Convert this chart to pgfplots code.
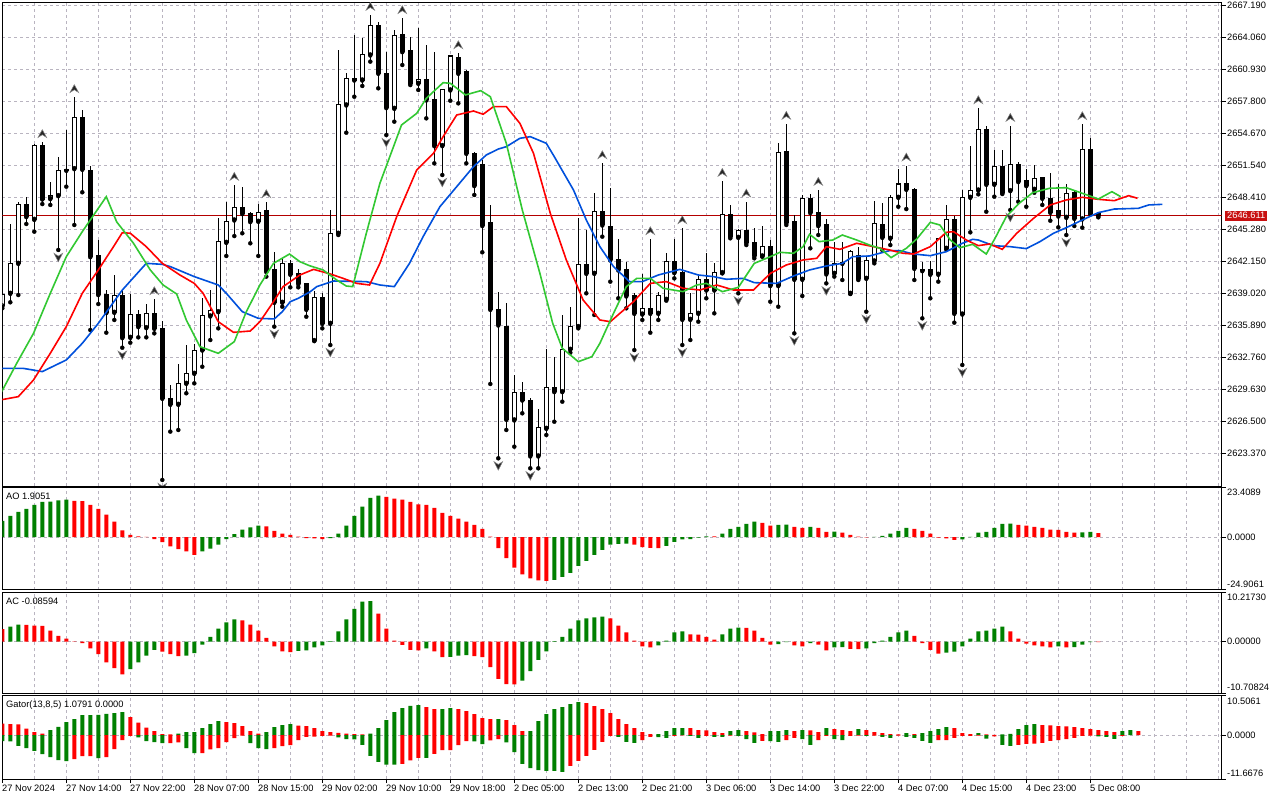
\documentclass[border=0pt]{standalone}
\usepackage{fontspec}
\setmainfont{Liberation Sans}
\usepackage{pgfplots}
\usepackage{pgfplotstable}
\pgfplotsset{compat=1.18}
\definecolor{jaw}{RGB}{0,80,220}
\definecolor{teeth}{RGB}{255,0,0}
\definecolor{lips}{RGB}{50,200,50}
\definecolor{barg}{RGB}{0,128,0}
\definecolor{barr}{RGB}{255,0,0}
\definecolor{gridc}{RGB}{185,180,192}
\definecolor{pline}{RGB}{180,0,0}
\definecolor{pbox}{RGB}{200,16,16}

\pgfdeclareplotmark{fup}{%
  \pgfpathmoveto{\pgfqpoint{0pt}{12.6pt}}%
  \pgfpathlineto{\pgfqpoint{-4.3pt}{4.8pt}}%
  \pgfpathlineto{\pgfqpoint{0pt}{7.6pt}}%
  \pgfpathlineto{\pgfqpoint{4.3pt}{4.8pt}}%
  \pgfpathclose\pgfusepathqfillstroke}
\pgfdeclareplotmark{fdn}{%
  \pgfpathmoveto{\pgfqpoint{0pt}{-11.8pt}}%
  \pgfpathlineto{\pgfqpoint{-4.3pt}{-3.4pt}}%
  \pgfpathlineto{\pgfqpoint{0pt}{-6.2pt}}%
  \pgfpathlineto{\pgfqpoint{4.3pt}{-3.4pt}}%
  \pgfpathclose\pgfusepathqfillstroke}

\pgfplotstableread{
i o h l c
0 2637.78 2639.67 2637.55 2638.95
1 2639.02 2645.80 2638.14 2641.95
2 2641.95 2647.98 2638.85 2647.66
3 2647.75 2648.41 2645.80 2646.52
4 2646.25 2653.62 2645.05 2653.43
5 2653.43 2653.79 2647.75 2648.24
6 2648.28 2649.91 2647.66 2648.54
7 2648.57 2652.38 2643.26 2651.02
8 2651.05 2654.99 2649.45 2651.11
9 2651.21 2658.19 2645.70 2656.23
10 2656.23 2656.95 2648.90 2651.15
11 2651.05 2651.47 2635.43 2642.60
12 2642.67 2644.23 2637.97 2638.89
13 2638.92 2639.34 2635.17 2637.13
14 2637.16 2640.78 2636.41 2638.79
15 2638.85 2639.34 2633.70 2634.68
16 2634.71 2638.92 2634.19 2636.96
17 2636.96 2637.39 2634.71 2635.76
18 2635.66 2637.97 2634.71 2637.06
19 2637.06 2638.43 2635.10 2635.59
20 2635.59 2636.31 2620.76 2628.75
21 2628.75 2630.05 2625.49 2628.16
22 2628.16 2632.10 2625.65 2630.21
23 2630.21 2633.96 2629.24 2631.19
24 2631.19 2634.06 2630.21 2633.47
25 2633.47 2638.53 2631.84 2636.80
26 2636.80 2639.34 2634.45 2637.32
27 2637.22 2646.35 2635.59 2644.07
28 2644.00 2647.98 2642.67 2646.09
29 2646.19 2649.61 2644.62 2647.43
30 2647.43 2649.39 2644.89 2646.81
31 2646.84 2646.97 2643.91 2646.03
32 2646.06 2647.75 2642.67 2646.94
33 2647.07 2647.92 2640.65 2641.14
34 2641.30 2643.03 2635.76 2638.14
35 2638.14 2642.44 2637.71 2641.95
36 2641.95 2642.28 2639.60 2640.88
37 2640.91 2641.36 2639.60 2639.93
38 2639.93 2640.06 2636.73 2637.45
39 2634.39 2639.28 2634.39 2638.63
40 2638.63 2639.02 2635.59 2636.08
41 2636.08 2647.17 2633.96 2644.89
42 2644.89 2662.82 2644.72 2657.44
43 2657.44 2660.60 2654.73 2660.05
44 2660.05 2664.29 2658.25 2659.88
45 2659.88 2664.02 2659.30 2662.33
46 2662.33 2666.24 2661.68 2665.26
47 2665.26 2665.52 2659.07 2660.54
48 2660.54 2662.65 2654.50 2657.18
49 2657.11 2664.77 2655.81 2664.19
50 2664.29 2665.92 2661.35 2662.65
51 2662.72 2664.12 2659.39 2659.56
52 2659.56 2664.94 2658.91 2659.95
53 2659.95 2663.31 2656.13 2657.93
54 2657.93 2662.65 2651.73 2653.46
55 2653.46 2658.97 2650.59 2658.91
56 2658.91 2662.33 2657.86 2662.23
57 2662.10 2662.49 2657.60 2660.54
58 2660.70 2660.86 2651.73 2652.71
59 2652.65 2652.87 2648.64 2649.55
60 2651.57 2652.06 2643.03 2645.64
61 2645.96 2647.66 2630.15 2637.45
62 2637.45 2639.18 2622.88 2635.92
63 2635.82 2638.10 2625.65 2626.69
64 2626.63 2631.03 2624.02 2629.30
65 2629.30 2630.38 2627.28 2628.58
66 2628.58 2628.75 2621.90 2623.11
67 2623.11 2627.67 2621.90 2625.91
68 2625.81 2633.54 2625.16 2629.82
69 2629.82 2632.82 2626.46 2629.40
70 2629.40 2636.90 2628.42 2633.54
71 2633.54 2637.65 2633.21 2635.82
72 2635.76 2646.35 2635.59 2641.79
73 2641.79 2645.21 2639.02 2640.97
74 2640.97 2648.86 2636.90 2647.00
75 2647.00 2651.73 2644.56 2645.70
76 2645.60 2649.29 2640.16 2642.28
77 2642.28 2644.30 2638.53 2641.30
78 2641.30 2642.11 2637.55 2638.76
79 2638.79 2639.08 2633.47 2637.06
80 2636.99 2640.91 2636.41 2637.55
81 2637.55 2644.30 2635.17 2637.06
82 2637.06 2639.18 2636.41 2638.85
83 2638.43 2642.93 2638.30 2642.11
84 2642.11 2644.30 2640.48 2641.04
85 2641.04 2645.37 2633.96 2636.47
86 2636.47 2639.02 2634.45 2637.06
87 2637.06 2640.71 2636.24 2640.39
88 2640.39 2642.93 2638.53 2639.34
89 2639.34 2641.95 2637.06 2641.04
90 2641.04 2650.00 2640.97 2646.74
91 2646.74 2647.66 2644.40 2644.56
92 2644.49 2645.28 2639.02 2645.15
93 2645.15 2647.98 2643.74 2643.97
94 2644.00 2645.37 2642.44 2642.67
95 2642.67 2645.60 2642.60 2643.58
96 2643.58 2644.23 2638.20 2639.77
97 2639.77 2653.69 2637.71 2652.77
98 2652.87 2655.58 2645.70 2645.93
99 2646.03 2646.68 2635.10 2640.39
100 2640.39 2648.64 2638.76 2648.31
101 2648.31 2648.73 2643.42 2646.91
102 2646.94 2649.12 2644.72 2645.64
103 2645.70 2646.25 2639.99 2640.91
104 2640.97 2644.07 2640.65 2641.95
105 2641.95 2644.07 2640.32 2642.02
106 2639.02 2643.26 2638.95 2643.09
107 2642.70 2643.52 2640.32 2640.48
108 2640.48 2642.60 2637.22 2642.18
109 2642.18 2648.08 2641.95 2645.86
110 2645.77 2647.88 2643.26 2644.49
111 2644.40 2648.64 2643.74 2648.41
112 2648.41 2651.18 2647.49 2649.71
113 2649.71 2651.50 2647.26 2649.19
114 2649.22 2649.29 2640.32 2641.46
115 2641.36 2642.11 2636.57 2641.23
116 2641.30 2642.21 2638.53 2640.88
117 2640.88 2644.46 2640.16 2644.40
118 2643.42 2647.66 2643.32 2646.19
119 2646.19 2646.58 2636.15 2637.06
120 2636.99 2649.12 2632.01 2648.41
121 2648.41 2653.46 2644.98 2649.12
122 2649.12 2657.11 2648.70 2655.06
123 2655.06 2655.42 2647.00 2649.68
124 2649.68 2653.04 2648.47 2651.47
125 2651.47 2653.04 2648.73 2648.86
126 2649.06 2655.38 2647.17 2651.63
127 2651.63 2651.83 2647.98 2649.94
128 2650.10 2651.18 2647.49 2649.55
129 2649.19 2651.57 2648.86 2650.27
130 2650.36 2650.43 2647.66 2648.31
131 2648.31 2650.75 2646.12 2646.94
132 2647.10 2649.71 2645.47 2646.58
133 2646.45 2649.71 2644.72 2648.80
134 2648.86 2649.03 2645.60 2646.35
135 2646.29 2655.55 2645.44 2653.10
136 2653.10 2654.18 2646.78 2646.84
137 2646.81 2647.00 2646.45 2646.611
}\candles

\pgfplotstableread{
i v g
0 7.7 1
1 10.1 1
2 12.0 1
3 13.4 1
4 15.3 1
5 16.7 1
6 16.8 1
7 17.4 1
8 17.7 1
9 17.2 0
10 17.1 0
11 15.3 0
12 13.4 0
13 10.6 0
14 7.3 0
15 3.2 0
16 1.1 0
17 0.3 0
18 0.1 0
19 -0.9 0
20 -2.4 0
21 -4.4 0
22 -5.7 0
23 -6.8 0
24 -8.4 0
25 -6.8 1
26 -5.4 1
27 -3.6 1
28 -0.9 1
29 1.4 1
30 3.6 1
31 4.6 1
32 5.4 1
33 5.1 0
34 3.0 0
35 1.6 0
36 1.1 0
37 0.2 0
38 -0.5 0
39 -0.6 0
40 -0.9 0
41 -0.5 1
42 1.6 1
43 5.4 1
44 10.1 1
45 14.4 1
46 18.6 1
47 19.6 1
48 19.1 0
49 18.2 0
50 17.7 0
51 16.7 0
52 15.5 0
53 15.3 0
54 13.9 0
55 11.5 0
56 10.1 0
57 8.7 0
58 7.3 0
59 5.8 0
60 3.9 0
61 0.2 0
62 -5.2 0
63 -9.9 0
64 -14.4 0
65 -17.7 0
66 -19.6 0
67 -20.5 0
68 -20.7 0
69 -20.2 1
70 -18.8 1
71 -16.9 1
72 -13.6 1
73 -11.2 1
74 -8.4 1
75 -6.0 1
76 -3.6 1
77 -3.2 1
78 -3.1 1
79 -3.6 0
80 -4.7 0
81 -5.1 0
82 -5.2 0
83 -4.1 1
84 -2.2 1
85 -1.1 1
86 -1.0 1
87 -0.3 1
88 0.4 1
89 0.3 0
90 1.6 1
91 3.9 1
92 4.9 1
93 6.3 1
94 7.3 1
95 6.8 0
96 5.4 0
97 5.8 1
98 5.9 1
99 4.9 0
100 4.4 0
101 4.9 1
102 4.4 0
103 2.5 0
104 2.6 1
105 2.1 0
106 1.1 0
107 0.2 0
108 -0.1 0
109 0.1 1
110 0.6 1
111 1.6 1
112 3.0 1
113 4.4 1
114 3.9 0
115 3.0 0
116 1.6 0
117 -0.3 0
118 -0.6 0
119 -1.3 0
120 -1.1 1
121 0.1 1
122 2.1 1
123 2.5 1
124 4.4 1
125 6.3 1
126 6.4 1
127 5.8 0
128 5.4 0
129 4.9 0
130 4.4 0
131 3.5 0
132 3.4 0
133 2.5 0
134 2.1 0
135 2.2 1
136 2.5 1
137 1.9051 0
}\aodata

\pgfplotstableread{
i v g
0 2.6 0
1 3.1 1
2 3.5 1
3 3.45 0
4 3.3 0
5 3.25 0
6 2.3 0
7 1.2 0
8 0.6 0
9 -0.05 0
10 -0.3 0
11 -1.4 0
12 -2.6 0
13 -4.3 0
14 -5.5 0
15 -6.8 0
16 -5.7 1
17 -4.3 1
18 -2.9 1
19 -1.7 1
20 -2.1 0
21 -2.6 0
22 -3.0 0
23 -2.9 1
24 -2.4 1
25 -0.6 1
26 1.0 1
27 2.7 1
28 4.0 1
29 4.6 1
30 4.4 0
31 3.5 0
32 2.3 0
33 0.8 0
34 -1.0 0
35 -2.0 0
36 -2.2 0
37 -1.9 1
38 -1.8 1
39 -1.2 1
40 -0.8 1
41 0.1 1
42 2.1 1
43 4.6 1
44 6.8 1
45 8.3 1
46 8.4 1
47 5.8 0
48 2.7 0
49 0.2 0
50 -0.7 0
51 -1.7 0
52 -1.8 0
53 -1.4 1
54 -2.0 0
55 -3.2 0
56 -3.15 1
57 -2.9 1
58 -2.8 1
59 -3.0 0
60 -3.2 0
61 -5.3 0
62 -7.7 0
63 -8.8 0
64 -8.85 0
65 -8.1 1
66 -6.1 1
67 -3.8 1
68 -2.0 1
69 0.1 1
70 1.0 1
71 2.7 1
72 4.4 1
73 4.8 1
74 5.0 1
75 5.2 1
76 4.8 0
77 3.3 0
78 1.9 0
79 0.2 0
80 -1.0 0
81 -1.2 0
82 -0.8 1
83 0.2 1
84 1.9 1
85 2.1 1
86 1.5 0
87 1.45 0
88 1.0 0
89 0.4 0
90 1.5 1
91 2.7 1
92 2.9 1
93 2.85 0
94 2.3 0
95 0.8 0
96 -0.6 0
97 -0.5 1
98 -0.1 1
99 -0.8 0
100 -1.0 0
101 -0.3 1
102 -0.6 0
103 -1.8 0
104 -1.2 1
105 -1.15 1
106 -1.5 0
107 -1.55 0
108 -1.4 1
109 -0.3 1
110 0.2 1
111 1.0 1
112 1.9 1
113 2.3 1
114 1.2 0
115 -0.3 0
116 -1.7 0
117 -2.5 0
118 -2.3 1
119 -2.1 1
120 -1.0 1
121 0.6 1
122 2.1 1
123 2.3 1
124 2.7 1
125 3.1 1
126 2.1 0
127 0.6 0
128 -0.4 0
129 -0.8 0
130 -1.0 0
131 -1.2 0
132 -1.0 1
133 -1.2 0
134 -1.15 1
135 -0.6 1
136 -0.1 1
137 -0.08594 0
}\acdata

\pgfplotstableread{
i v g
0 3.10 0
1 2.93 0
2 2.90 0
3 1.77 0
4 0.80 0
5 0.44 0
6 1.33 1
7 2.22 1
8 3.46 1
9 4.26 1
10 5.32 1
11 5.35 1
12 5.38 1
13 5.68 1
14 5.85 1
15 6.12 1
16 4.79 0
17 3.37 0
18 2.04 0
19 1.06 0
20 0.27 0
21 0.20 0
22 0.44 1
23 0.80 1
24 0.82 1
25 1.86 1
26 2.93 1
27 3.73 1
28 3.46 0
29 3.19 0
30 2.39 0
31 1.06 0
32 0.44 0
33 0.80 1
34 2.13 1
35 2.66 1
36 2.93 1
37 2.57 0
38 2.39 0
39 1.86 0
40 1.06 0
41 0.80 0
42 0.62 0
43 0.44 0
44 0.27 0
45 0.18 0
46 0.44 1
47 1.86 1
48 3.99 1
49 6.12 1
50 7.18 1
51 7.81 1
52 7.98 1
53 7.45 0
54 6.92 0
55 6.95 1
56 7.18 1
57 6.92 0
58 6.39 0
59 5.59 0
60 4.52 0
61 4.26 0
62 4.28 1
63 3.99 0
64 2.66 0
65 1.06 0
66 1.10 1
67 3.73 1
68 5.59 1
69 6.92 1
70 7.45 1
71 8.25 1
72 8.78 1
73 8.52 0
74 7.72 0
75 6.92 0
76 5.85 0
77 4.26 0
78 2.93 0
79 1.86 0
80 0.80 0
81 0.27 0
82 0.30 1
83 1.06 1
84 1.86 1
85 1.90 1
86 1.86 0
87 1.33 0
88 1.30 0
89 0.80 0
90 0.53 0
91 1.06 1
92 1.33 1
93 1.06 0
94 0.71 0
95 0.27 0
96 1.06 1
97 1.10 1
98 1.33 1
99 1.06 0
100 1.33 1
101 1.30 0
102 0.80 0
103 1.86 1
104 1.60 0
105 1.33 0
106 1.06 0
107 1.60 1
108 1.33 0
109 0.80 0
110 0.53 0
111 0.27 0
112 0.20 0
113 0.53 1
114 0.27 0
115 0.53 1
116 1.06 1
117 1.60 1
118 2.13 1
119 1.86 0
120 0.53 0
121 0.27 0
122 0.53 1
123 0.18 0
124 0.10 0
125 0.18 1
126 0.35 1
127 1.60 1
128 2.66 1
129 2.93 1
130 2.66 0
131 2.60 0
132 2.39 0
133 2.35 0
134 2.13 0
135 1.86 0
136 1.60 0
137 1.33 0
138 1.06 0
139 0.80 0
140 1.06 1
141 1.33 1
142 1.0791 0
}\gup

\pgfplotstableread{
i v g
0 -1.60 1
1 -1.65 1
2 -2.84 1
3 -3.46 1
4 -4.17 1
5 -5.06 1
6 -5.85 1
7 -6.65 1
8 -6.92 1
9 -6.39 0
10 -5.59 0
11 -5.55 0
12 -6.12 1
13 -5.85 0
14 -3.73 0
15 -1.33 0
16 -0.18 0
17 -0.62 1
18 -1.60 1
19 -1.86 1
20 -2.13 1
21 -2.10 0
22 -1.95 0
23 -3.46 1
24 -4.79 1
25 -4.75 0
26 -3.81 0
27 -3.46 0
28 -1.86 0
29 -0.80 0
30 -0.09 0
31 -2.13 1
32 -3.46 1
33 -3.73 1
34 -3.46 0
35 -2.93 0
36 -2.66 0
37 -1.33 0
38 -0.44 0
39 -0.40 0
40 -0.18 0
41 -0.09 0
42 -0.62 1
43 -1.06 1
44 -1.10 1
45 -2.57 1
46 -5.50 1
47 -7.10 1
48 -7.81 1
49 -7.85 1
50 -7.63 0
51 -6.74 0
52 -6.03 0
53 -6.05 1
54 -4.97 0
55 -3.99 0
56 -3.95 0
57 -2.66 0
58 -1.60 0
59 -1.65 1
60 -2.39 1
61 -1.42 0
62 -1.06 0
63 -1.95 1
64 -4.52 1
65 -7.63 1
66 -8.78 1
67 -9.31 1
68 -9.49 1
69 -9.50 1
70 -9.76 1
71 -8.16 0
72 -6.83 0
73 -5.50 0
74 -3.90 0
75 -1.77 0
76 -0.18 0
77 -0.44 1
78 -1.77 1
79 -2.04 1
80 -1.33 0
81 -0.44 0
82 -0.50 1
83 -0.71 1
84 -0.18 0
85 -0.05 0
86 -0.18 1
87 -0.71 1
88 -0.18 0
89 -0.44 1
90 -0.45 1
91 -0.09 0
92 -0.18 1
93 -1.06 1
94 -2.04 1
95 -1.51 0
96 -1.60 1
97 -1.77 1
98 -1.33 0
99 -0.71 0
100 -1.06 1
101 -2.57 1
102 -1.33 0
103 -0.18 0
104 -1.06 1
105 -1.33 1
106 -0.18 0
107 -0.09 0
108 -0.18 1
109 -0.09 0
110 -0.44 1
111 -0.71 1
112 -0.09 0
113 -0.44 1
114 -0.71 1
115 -1.51 1
116 -2.04 1
117 -1.33 0
118 -1.30 0
119 -0.71 0
120 -0.18 0
121 -0.17 0
122 -0.09 0
123 -0.89 1
124 -0.35 0
125 -2.57 1
126 -2.84 1
127 -2.57 0
128 -2.31 0
129 -2.28 0
130 -2.04 0
131 -1.51 0
132 -1.33 0
133 -1.06 0
134 -0.71 0
135 -0.18 0
136 -0.09 0
137 -0.35 1
138 -0.44 1
139 -0.98 1
140 -0.18 0
}\glo

\pgfplotsset{
  mt/.style={
    scale only axis, width=1219.4pt, xmin=0, xmax=152.425,
    anchor=south west,
    axis line style={black, line width=0.9pt},
    clip mode=individual,
    tick align=outside,
    ytick pos=right, yticklabel pos=right,
    major tick length=4pt,
    xtick style={draw opacity=0},
    ytick style={black, line width=0.8pt},
    grid style={gridc, dash pattern=on 3pt off 3pt, line width=0.8pt},
    xmajorgrids, ymajorgrids,
    tick label style={font=\fontsize{9.3}{11}\selectfont, inner sep=0pt},
    yticklabel style={anchor=west, xshift=1.3pt},
    xtick={4,8,...,152}, xticklabels={},
  },
  bars/.style={ybar, bar width=4pt, bar shift=0pt, draw=none, forget plot},
}

\begin{document}
\begin{tikzpicture}[font=\fontsize{9.3}{11}\selectfont]
\path[use as bounding box, fill=white] (0pt,0pt) rectangle (1280pt,800pt);

% ---------- main price panel ----------
\begin{axis}[mt, at={(2.3pt,314pt)}, height=483.5pt,
  ymin=2620.171, ymax=2667.464, clip marker paths=true,
  ytick={2623.37,2626.50,2629.63,2632.76,2635.89,2639.02,2642.15,2645.28,2648.41,2651.54,2654.67,2657.80,2660.93,2664.06,2667.19},
  yticklabels={2623.370,2626.500,2629.630,2632.760,2635.890,2639.020,2642.150,2645.280,2648.410,2651.540,2654.670,2657.800,2660.930,2664.060,2667.190}]
\addplot[pline, line width=0.8pt, forget plot] coordinates {(0,2646.611) (152.425,2646.611)};
% wicks
\addplot[only marks, mark=none, forget plot,
  error bars/.cd, y dir=plus, y explicit, error mark=none,
  error bar style={draw=black, line width=1pt}]
  table[x=i, y=l, y error plus expr={\thisrow{h}-\thisrow{l}}] {\candles};
% body outline / black body
\addplot[only marks, mark=none, forget plot,
  error bars/.cd, y dir=plus, y explicit, error mark=none,
  error bar style={draw=black, line width=5pt}]
  table[x=i, y expr={min(\thisrow{o},\thisrow{c})-0.049},
        y error plus expr={abs(\thisrow{c}-\thisrow{o})+0.098}] {\candles};
% white bodies
\addplot[only marks, mark=none, forget plot,
  error bars/.cd, y dir=plus, y explicit, error mark=none,
  error bar style={draw=white, line width=3pt}]
  table[x=i, y expr={((\thisrow{c}-\thisrow{o})>0.1) ? (\thisrow{o}+0.049) : nan},
        y error plus expr={\thisrow{c}-\thisrow{o}-0.098}] {\candles};
% Alligator jaw
\addplot[jaw, line width=1.6pt] coordinates {
(-0.3,2631.68)(2.6,2631.68)(5,2631.36)(8,2632.50)(10,2634.13)(12,2636.08)(13.5,2637.71)(15,2639.34)(18,2641.95)(20,2641.85)(21,2641.63)(24,2640.65)(27,2639.83)(28,2639.02)(30,2637.22)(32,2636.57)(34,2636.51)(35,2637.22)(36,2638.20)(37,2638.53)(38.5,2639.18)(39.3,2639.67)(41.4,2640.22)(45.5,2640.16)(47.2,2639.83)(49,2639.67)(50.9,2641.95)(52.6,2644.56)(54.7,2647.49)(56.8,2649.45)(58.9,2651.41)(60.5,2652.55)(62,2653.13)(63,2653.36)(64.7,2654.18)(66,2654.34)(68,2653.69)(69,2652.38)(71.4,2649.12)(73,2646.19)(74.7,2643.58)(76.4,2641.63)(78.4,2640.16)(80,2640.16)(82,2640.81)(84.7,2641.36)(87,2640.81)(88.9,2640.65)(90.5,2640.39)(92.6,2640.48)(94,2640.06)(96.8,2639.99)(98.9,2640.71)(100.9,2641.30)(103,2641.69)(105,2641.95)(106.3,2642.60)(108.4,2642.67)(110.9,2643.19)(112.2,2643.19)(113.9,2642.86)(116,2642.70)(118,2643.09)(120,2643.91)(121.3,2644.30)(122,2644.23)(123.9,2643.68)(126,2643.58)(128,2643.39)(129.7,2644.07)(131.4,2644.89)(133,2645.44)(135,2646.19)(137,2646.91)(139,2647.26)(142,2647.33)(143.3,2647.66)(145,2647.72)};
% Alligator teeth
\addplot[teeth, line width=1.6pt] coordinates {
(-0.3,2628.58)(2,2628.91)(3.9,2630.54)(6,2633.15)(8,2635.76)(10,2639.02)(12,2641.30)(13.9,2643.58)(15,2644.95)(16,2644.89)(18,2643.58)(20,2641.95)(22.2,2640.81)(24,2639.99)(25.1,2639.02)(27,2636.24)(28.9,2635.20)(31,2635.33)(32.2,2636.24)(33.9,2638.20)(35.1,2639.67)(37.2,2640.81)(38.9,2641.36)(41,2640.91)(42.6,2640.48)(44.3,2639.99)(45.9,2639.83)(47.2,2641.95)(49.3,2646.52)(51.8,2651.08)(53.9,2652.71)(55.1,2654.34)(56.8,2656.46)(58.9,2656.85)(60.1,2656.53)(61.4,2657.28)(63,2657.28)(64.7,2655.64)(66.4,2652.71)(68.5,2646.84)(70.5,2642.28)(72.6,2638.36)(74.7,2636.41)(76,2636.24)(77.2,2637.06)(78.9,2638.20)(81,2639.99)(83,2640.16)(85.1,2639.51)(87.2,2639.34)(89.3,2639.83)(91.4,2639.34)(93.9,2639.34)(96,2640.97)(98,2641.79)(100.1,2642.28)(101.8,2642.44)(103,2643.58)(104.7,2643.32)(106.8,2643.91)(108.9,2643.58)(110.9,2643.26)(112.6,2642.93)(113.9,2642.86)(116,2643.58)(118,2644.98)(118.9,2645.05)(120.5,2644.23)(122,2643.68)(123.4,2643.84)(125,2643.32)(126.8,2644.89)(128.9,2646.35)(131,2647.66)(133,2648.15)(135,2648.41)(137,2648.21)(139,2648.08)(140.8,2648.57)(141.9,2648.31)};
% Alligator lips
\addplot[lips, line width=1.6pt] coordinates {
(-0.3,2629.07)(1.8,2632.17)(3.9,2635.10)(6,2639.02)(8,2642.60)(10,2645.05)(13,2648.47)(14.3,2646.00)(16.4,2643.91)(18.5,2641.30)(20.1,2639.83)(21.8,2638.95)(23,2636.41)(24.7,2633.80)(27,2633.15)(29,2634.29)(30.5,2637.22)(32.2,2639.83)(33.9,2641.95)(35.9,2642.86)(37.2,2642.11)(38.4,2641.72)(40.1,2641.30)(41.8,2640.32)(43,2639.73)(43.8,2639.67)(45.5,2644.89)(47.2,2649.78)(48.9,2653.36)(49.9,2655.48)(51.8,2656.62)(53,2658.09)(55.1,2659.62)(56,2659.56)(57.9,2658.42)(59.8,2658.84)(61,2658.25)(63,2653.69)(65,2647.17)(67.2,2640.97)(68.8,2636.08)(70,2633.64)(72,2632.33)(73.7,2632.82)(74.7,2634.13)(76.4,2637.06)(78,2639.67)(79.3,2640.48)(81,2640.48)(82.6,2639.51)(85.1,2639.18)(86.8,2639.83)(88,2639.99)(90,2639.18)(92,2639.60)(94,2641.95)(96,2642.60)(97.2,2643.03)(98.9,2642.93)(100.1,2643.58)(100.9,2644.79)(102.1,2644.07)(103.8,2644.23)(105,2644.72)(106.8,2644.23)(108.4,2643.74)(109.7,2643.42)(111.1,2642.51)(113,2643.42)(114.3,2644.33)(116,2645.96)(117.2,2645.70)(118.5,2644.23)(119.7,2643.48)(121.3,2643.81)(123,2642.86)(124.2,2644.56)(125.5,2646.52)(127.1,2647.82)(128.8,2648.86)(130.9,2649.29)(133,2649.35)(135,2648.80)(137,2648.24)(138.7,2648.96)(139.8,2648.47)};
% fractals
\addplot[only marks, mark=fup, mark options={fill=black!85, draw=black!50, line width=0.5pt}] coordinates {
(5,2653.79)(9,2658.19)(19,2638.43)(29,2649.61)(33,2647.92)(46,2666.24)(50,2665.92)(57,2662.49)(75,2651.73)(81,2644.30)(85,2645.37)(90,2650.00)(93,2647.98)(98,2655.58)(102,2649.12)(113,2651.50)(122,2657.11)(126,2655.38)(135,2655.55)};
\addplot[only marks, mark=fdn, mark options={fill=black!85, draw=black!50, line width=0.5pt}] coordinates {
(7,2643.26)(15,2633.70)(20,2620.76)(34,2635.76)(41,2633.96)(48,2654.50)(55,2650.59)(62,2622.88)(66,2621.90)(79,2633.47)(85,2633.96)(92,2639.02)(99,2635.10)(103,2639.99)(108,2637.22)(115,2636.57)(120,2632.01)(126,2647.17)(133,2644.72)};
\node[fill=pbox, text=white, anchor=west, inner xsep=2pt, inner ysep=1.8pt, xshift=3.3pt] at (axis cs:152.425,2646.611) {2646.611};
\end{axis}

% ---------- AO ----------
\begin{axis}[mt, at={(2.3pt,210.3pt)}, height=102pt,
  ymin=-24.9061, ymax=23.4089, ytick={-24.9061,0,23.4089}, yticklabels={,0.0000,}]
\addplot[bars, fill=barg] table[x=i, y expr={(\thisrow{g}==1) ? \thisrow{v} : nan}] {\aodata};
\addplot[bars, fill=barr] table[x=i, y expr={(\thisrow{g}==0) ? \thisrow{v} : nan}] {\aodata};
\node[anchor=north west, inner sep=0pt, xshift=3.7pt, yshift=-5.5pt] at (rel axis cs:0,1) {AO 1.9051};
\node[anchor=north west, inner sep=0pt, xshift=5.3pt, yshift=-1.5pt] at (rel axis cs:1,1) {23.4089};
\node[anchor=south west, inner sep=0pt, xshift=5.3pt, yshift=2pt] at (rel axis cs:1,0) {-24.9061};
\end{axis}

% ---------- AC ----------
\begin{axis}[mt, at={(2.3pt,106.7pt)}, height=101pt,
  ymin=-10.70824, ymax=10.2173, ytick={-10.70824,0,10.2173}, yticklabels={,0.00000,}]
\addplot[bars, fill=barg] table[x=i, y expr={(\thisrow{g}==1) ? \thisrow{v} : nan}] {\acdata};
\addplot[bars, fill=barr] table[x=i, y expr={(\thisrow{g}==0) ? \thisrow{v} : nan}] {\acdata};
\node[anchor=north west, inner sep=0pt, xshift=3.7pt, yshift=-6pt] at (rel axis cs:0,1) {AC -0.08594};
\node[anchor=north west, inner sep=0pt, xshift=5.3pt, yshift=-2pt] at (rel axis cs:1,1) {10.21730};
\node[anchor=south west, inner sep=0pt, xshift=5.3pt, yshift=3pt] at (rel axis cs:1,0) {-10.70824};
\end{axis}

% ---------- Gator ----------
\begin{axis}[mt, at={(2.3pt,21pt)}, height=83.3pt,
  ymin=-11.6676, ymax=10.5061, ytick={-11.6676,0,10.5061}, yticklabels={,0.0000,},
  xtick={0,8,...,136},
  xticklabels={27 Nov 2024,27 Nov 14:00,27 Nov 22:00,28 Nov 07:00,28 Nov 15:00,29 Nov 02:00,29 Nov 10:00,29 Nov 18:00,2 Dec 05:00,2 Dec 13:00,2 Dec 21:00,3 Dec 06:00,3 Dec 14:00,3 Dec 22:00,4 Dec 07:00,4 Dec 15:00,4 Dec 23:00,5 Dec 08:00},
  minor xtick={4,12,20,28,36,44,52,60,68,76,84,92,100,108,116,124,132,140,144,148,152},
  xminorgrids, minor tick length=0pt, xtick pos=left,
  xtick style={draw opacity=1, black, line width=0.8pt},
  xticklabel style={anchor=north west, xshift=-0.3pt, yshift=-1.5pt}]
\addplot[bars, fill=barg] table[x=i, y expr={(\thisrow{g}==1) ? \thisrow{v} : nan}] {\gup};
\addplot[bars, fill=barr] table[x=i, y expr={(\thisrow{g}==0) ? \thisrow{v} : nan}] {\gup};
\addplot[bars, fill=barg] table[x=i, y expr={(\thisrow{g}==1) ? \thisrow{v} : nan}] {\glo};
\addplot[bars, fill=barr] table[x=i, y expr={(\thisrow{g}==0) ? \thisrow{v} : nan}] {\glo};
\node[anchor=north west, inner sep=0pt, xshift=3.7pt, yshift=-5pt] at (rel axis cs:0,1) {Gator(13,8,5) 1.0791 0.0000};
\node[anchor=north west, inner sep=0pt, xshift=5.3pt, yshift=-1.8pt] at (rel axis cs:1,1) {10.5061};
\node[anchor=south west, inner sep=0pt, xshift=5.3pt, yshift=2.7pt] at (rel axis cs:1,0) {-11.6676};
\end{axis}
\end{tikzpicture}
\end{document}
